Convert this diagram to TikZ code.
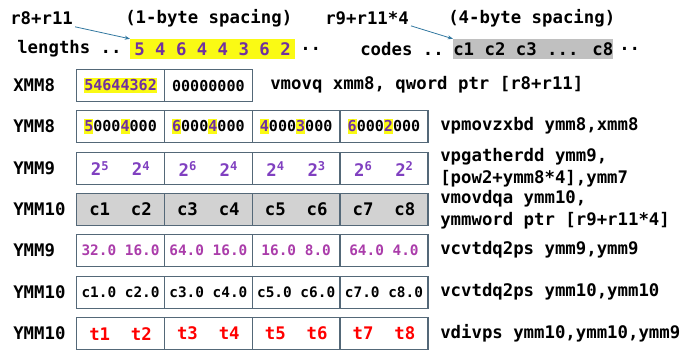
\documentclass[tikz,border=0pt]{standalone}
\usepackage{fontspec}
\setmainfont{DejaVu Sans Mono}
\usepackage{tikz}
\usetikzlibrary{arrows.meta}
\usetikzlibrary{positioning}

\definecolor{cellline}{RGB}{84,104,120}
\definecolor{cellgrey}{RGB}{210,210,210}
\definecolor{codegrey}{RGB}{192,192,192}
\definecolor{hlyellow}{RGB}{250,250,20}
\definecolor{lenpurple}{RGB}{112,48,160}
\definecolor{powpurple}{RGB}{128,64,192}
\definecolor{fltpurple}{RGB}{170,60,170}
\definecolor{ptrblue}{RGB}{50,120,160}

\newcommand{\hl}[1]{{\setlength{\fboxsep}{0pt}\colorbox{hlyellow}{\rule[-0.2em]{0pt}{1em}\textcolor{lenpurple}{#1}}}}

\tikzstyle{big} = [font=\fontsize{13}{16.5}\selectfont\bfseries, inner sep=0pt]
\tikzstyle{reg} = [big, anchor=west]
\tikzstyle{instr} = [big, anchor=west, align=left]
\tikzstyle{cell} = [rectangle, draw=cellline, line width=1pt, anchor=north west, inner sep=0pt, minimum width=65.85pt, minimum height=24pt, font=\fontsize{11.3}{13}\selectfont\bfseries]
\tikzstyle{gcell} = [cell, fill=cellgrey]
\tikzstyle{ptr} = [draw=ptrblue, line width=0.6pt, -{Stealth[length=4pt,width=3pt]}]

\begin{document}
\begin{tikzpicture}[x=0.75pt, y=-0.75pt]
\useasboundingbox (0,0) rectangle (694,350);

% memory
\node (r8lbl) [big, anchor=west] at (10,18) {r8+r11};
\node (onebyte) [big, anchor=west] at (125,18) {(1-byte spacing)};
\node (r9lbl) [big, anchor=west] at (325,18) {r9+r11*4};
\node (fourbyte) [big, anchor=west] at (448,18) {(4-byte spacing)};

\node (lenlbl) [big, anchor=west] at (17,49) {lengths ..};
\node (lenhl) [big, anchor=west, fill=hlyellow, text=lenpurple, inner xsep=3pt, inner ysep=2.5pt] at (130,49) {5 4 6 4 4 3 6 2};
\node (lendots) [big, anchor=west] at (300,49) {..};
\node (codelbl) [big, anchor=west] at (360,49) {codes ..};
\node (codehl) [big, anchor=west, fill=codegrey, inner xsep=0pt, inner ysep=2.5pt] at (453,49) {c1 c2 c3 ... c8};
\node (codedots) [big, anchor=west] at (619,49) {..};

\draw[ptr] (r8lbl.south east) ++(2,2) -- (lenhl.north west);
\draw[ptr] (r9lbl.south east) ++(2,1) -- (codehl.north west);

% registers
\node (xlbl) [reg] at (13,85) {XMM8};
\node (xa) [cell] at (76,69) {\hl{54644362}};
\node (xb) [cell] at (163.8,69) {00000000};
\node (xins) [instr] at (270,85) {vmovq xmm8, qword ptr [r8+r11]};

\node (y8lbl) [reg] at (13,126) {YMM8};
\foreach \txt [count=\i] in {{\hl{5}000\hl{4}000},{\hl{6}000\hl{4}000},{\hl{4}000\hl{3}000},{\hl{6}000\hl{2}000}}
  \node (y8c\i) [cell] at ({76+(\i-1)*87.8},110) {\txt};
\node (y8ins) [instr] at (440,126) {vpmovzxbd ymm8,xmm8};

\node (y9lbl) [reg] at (13,168) {YMM9};
\foreach \a/\b [count=\i] in {5/4,6/4,4/3,6/2}
  \node (y9c\i) [cell, text=powpurple, font=\fontsize{13}{15}\selectfont\bfseries] at ({76+(\i-1)*87.8},152) {2\textsuperscript{\a}\hspace{17pt}2\textsuperscript{\b}};
\node (y9ins) [instr] at (440,168) {vpgatherdd ymm9,\\{}[pow2+ymm8*4],ymm7};

\node (y10lbl) [reg] at (13,209) {YMM10};
\foreach \a/\b [count=\i] in {c1/c2,c3/c4,c5/c6,c7/c8}
  \node (y10c\i) [gcell, font=\fontsize{13}{15}\selectfont\bfseries] at ({76+(\i-1)*87.8},193) {\a~~\b};
\node (y10ins) [instr] at (440,210) {vmovdqa ymm10,\\ymmword ptr [r9+r11*4]};

\node (f9lbl) [reg] at (13,250) {YMM9};
\foreach \txt [count=\i] in {32.0 16.0,64.0 16.0,16.0 8.0,64.0 4.0}
  \node (f9c\i) [cell, text=fltpurple, font=\fontsize{10.8}{13}\selectfont\bfseries] at ({76+(\i-1)*87.8},234) {\txt};
\node (f9ins) [instr] at (440,250) {vcvtdq2ps ymm9,ymm9};

\node (f10lbl) [reg] at (13,292) {YMM10};
\foreach \txt [count=\i] in {c1.0 c2.0,c3.0 c4.0,c5.0 c6.0,c7.0 c8.0}
  \node (f10c\i) [cell, font=\fontsize{10.8}{13}\selectfont\bfseries] at ({76+(\i-1)*87.8},276) {\txt};
\node (f10ins) [instr] at (440,292) {vcvtdq2ps ymm10,ymm10};

\node (t10lbl) [reg] at (13,333) {YMM10};
\foreach \a/\b [count=\i] in {t1/t2,t3/t4,t5/t6,t7/t8}
  \node (t10c\i) [cell, text=red, font=\fontsize{13}{15}\selectfont\bfseries] at ({76+(\i-1)*87.8},317) {\a~~\b};
\node (t10ins) [instr] at (440,333) {vdivps ymm10,ymm10,ymm9};

\end{tikzpicture}
\end{document}
